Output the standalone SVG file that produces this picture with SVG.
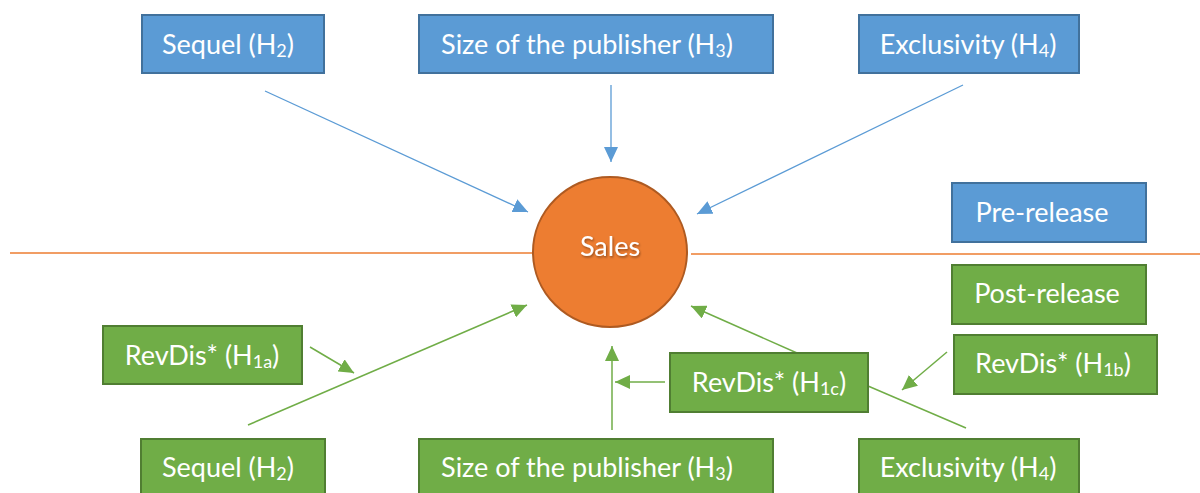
<svg xmlns="http://www.w3.org/2000/svg" width="1200" height="493" viewBox="0 0 1200 493">
  <style>
    .blue { fill: #5B9BD5; stroke: #41719C; stroke-width: 2; }
    .green { fill: #70AD47; stroke: #507E32; stroke-width: 2; }
    .sales { fill: #ED7D31; stroke: #AE5A21; stroke-width: 2; }
    .lbl { font-family: Lato, "Open Sans", "Liberation Sans", sans-serif; font-size: 27px; fill: #FFFFFF; text-anchor: middle; }
    .sub { font-size: 18px; }
    .cb { stroke: #5B9BD5; stroke-width: 1.3; fill: none; }
    .cg { stroke: #70AD47; stroke-width: 1.5; fill: none; }
    .co { stroke: #ED7D31; stroke-width: 1.4; fill: none; }
  </style>
  <defs>
    <marker id="ab" markerUnits="userSpaceOnUse" markerWidth="16" markerHeight="14" refX="15" refY="7" orient="auto">
      <path d="M0,0 L15,7 L0,14 z" fill="#5B9BD5"/>
    </marker>
    <marker id="ag" markerUnits="userSpaceOnUse" markerWidth="16" markerHeight="14" refX="15" refY="7" orient="auto">
      <path d="M0,0 L15,7 L0,14 z" fill="#70AD47"/>
    </marker>
    <filter id="shadow" x="-20%" y="-20%" width="140%" height="140%">
      <feDropShadow dx="1" dy="1.5" stdDeviation="0.8" flood-color="#000000" flood-opacity="0.4"/>
    </filter>
  </defs>
  <rect width="1200" height="493" fill="#FFFFFF"/>

  <g id="connectors">
    <line class="co" x1="10" y1="253" x2="533" y2="253"/>
    <line class="co" x1="691" y1="254" x2="1200" y2="254"/>
    <line class="cb" x1="265" y1="91" x2="528" y2="212" marker-end="url(#ab)"/>
    <line class="cb" x1="611" y1="85" x2="611" y2="162" marker-end="url(#ab)"/>
    <line class="cb" x1="963" y1="85" x2="697" y2="214" marker-end="url(#ab)"/>
    <line class="cg" x1="310" y1="347" x2="354" y2="373" marker-end="url(#ag)"/>
    <line class="cg" x1="248" y1="425" x2="527" y2="305" marker-end="url(#ag)"/>
    <line class="cg" x1="612" y1="430" x2="612" y2="346" marker-end="url(#ag)"/>
    <line class="cg" x1="665" y1="382" x2="615" y2="382" marker-end="url(#ag)"/>
    <line class="cg" x1="797" y1="353" x2="691" y2="306" marker-end="url(#ag)"/>
    <line class="cg" x1="947" y1="352" x2="902" y2="390" marker-end="url(#ag)"/>
    <line class="cg" x1="868" y1="386" x2="966" y2="428"/>
  </g>

  <g id="sales">
    <ellipse class="sales" cx="610" cy="252" rx="77" ry="75"/>
    <text class="lbl" x="610" y="256" filter="url(#shadow)">Sales</text>
  </g>

  <g id="sequel-pre">
    <rect class="blue" x="142" y="15" width="182" height="58"/>
    <text class="lbl" x="228" y="54">Sequel (H<tspan class="sub" dy="3">2</tspan><tspan dy="-3">)</tspan></text>
  </g>
  <g id="size-pre">
    <rect class="blue" x="419" y="15" width="354" height="58"/>
    <text class="lbl" x="587" y="54">Size of the publisher (H<tspan class="sub" dy="3">3</tspan><tspan dy="-3">)</tspan></text>
  </g>
  <g id="exclusivity-pre">
    <rect class="blue" x="859" y="15" width="220" height="58"/>
    <text class="lbl" x="968" y="54">Exclusivity (H<tspan class="sub" dy="3">4</tspan><tspan dy="-3">)</tspan></text>
  </g>
  <g id="legend-pre">
    <rect class="blue" x="952" y="183" width="194" height="59"/>
    <text class="lbl" x="1042" y="222">Pre-release</text>
  </g>
  <g id="legend-post">
    <rect class="green" x="952" y="265" width="194" height="59"/>
    <text class="lbl" x="1047" y="303">Post-release</text>
  </g>
  <g id="revdis-h1a">
    <rect class="green" x="103" y="326" width="199" height="58"/>
    <text class="lbl" x="202" y="365">RevDis* (H<tspan class="sub" dy="3">1a</tspan><tspan dy="-3">)</tspan></text>
  </g>
  <g id="revdis-h1b">
    <rect class="green" x="954" y="335" width="203" height="59"/>
    <text class="lbl" x="1053" y="373">RevDis* (H<tspan class="sub" dy="3">1b</tspan><tspan dy="-3">)</tspan></text>
  </g>
  <g id="revdis-h1c">
    <rect class="green" x="670" y="353" width="198" height="59"/>
    <text class="lbl" x="769" y="392">RevDis* (H<tspan class="sub" dy="3">1c</tspan><tspan dy="-3">)</tspan></text>
  </g>
  <g id="sequel-post">
    <rect class="green" x="141" y="439" width="184" height="60"/>
    <text class="lbl" x="228" y="477">Sequel (H<tspan class="sub" dy="3">2</tspan><tspan dy="-3">)</tspan></text>
  </g>
  <g id="size-post">
    <rect class="green" x="419" y="439" width="354" height="60"/>
    <text class="lbl" x="587" y="477">Size of the publisher (H<tspan class="sub" dy="3">3</tspan><tspan dy="-3">)</tspan></text>
  </g>
  <g id="exclusivity-post">
    <rect class="green" x="859" y="439" width="220" height="60"/>
    <text class="lbl" x="968" y="477">Exclusivity (H<tspan class="sub" dy="3">4</tspan><tspan dy="-3">)</tspan></text>
  </g>
</svg>
